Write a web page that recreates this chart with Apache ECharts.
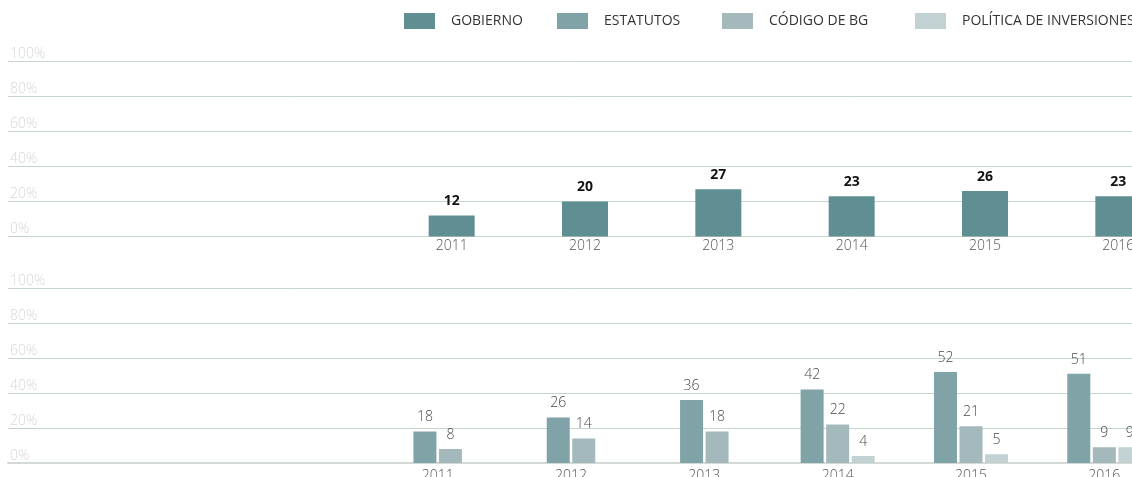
<!DOCTYPE html>
<html>
<head>
    <meta charset="utf-8">
    <style>
        html, body { margin: 0; padding: 0; background: #fff; }
    </style>
</head>
<body>

<div id="main" style="width: 1132px;height:477px;"></div>

<script type="text/javascript" src="https://cdn.jsdelivr.net/npm/echarts@6/dist/echarts.min.js"></script>

<script type="text/javascript">

    // datos
    var years = ['2011', '2012', '2013', '2014', '2015', '2016'];
    var gobierno = [12, 20, 27, 23, 26, 23];
    var estatutos = [18, 26, 36, 42, 52, 51];
    var codigo = [8, 14, 18, 22, 21, 9];
    var politica = [null, null, null, 4, 5, 9];
    var pctTicks = [0, 20, 40, 60, 80, 100];

    var names = ['GOBIERNO', 'ESTATUTOS', 'CÓDIGO DE BG', 'POLÍTICA DE INVERSIONES'];
    var colors = ['#5f8f93', '#80a3a7', '#a3b9bb', '#c2d1d2'];

    // años sin política -> grupo de 2 barras centrado
    function lateOnly(arr) {
        return arr.map(function (v, i) { return politica[i] == null ? null : v; });
    }
    function earlyOnly(arr) {
        return arr.map(function (v, i) { return politica[i] == null ? v : null; });
    }

    var font = '"Open Sans", "DejaVu Sans", sans-serif';
    var gridColor = '#c6d5cb';

    var myChart = echarts.init(document.getElementById('main'));

    function bgY(idx) {
        return {
            gridIndex: idx, type: 'value', min: 0, max: 100, interval: 20,
            axisLine: { show: false }, axisTick: { show: false },
            splitLine: { lineStyle: { color: gridColor, width: 1 } },
            axisLabel: {
                inside: true, margin: 2, align: 'left', verticalAlign: 'bottom',
                color: '#d3d9d5', fontSize: 14, fontWeight: 300, fontFamily: font,
                formatter: '{value}%'
            }
        };
    }
    function hiddenY(idx) {
        return { gridIndex: idx, type: 'value', min: 0, max: 100, interval: 20, show: false };
    }
    function catX(idx, show, margin) {
        return {
            gridIndex: idx, type: 'category', data: years, show: show,
            axisLine: { show: false }, axisTick: { show: false },
            axisLabel: { margin: margin, color: '#555', fontSize: 14, fontWeight: 300, fontFamily: font }
        };
    }

    var legends = [399, 552, 717, 910].map(function (x, i) {
        return {
            data: [names[i]], left: x, top: 8, itemWidth: 31, itemHeight: 16,
            icon: 'rect', selectedMode: false,
            textStyle: { color: '#333', fontSize: 14, fontFamily: font, padding: [0, 0, 0, 11] }
        };
    });

    var bottomLabel = {
        show: true, position: 'top', distance: 7,
        color: '#4a4a4a', fontSize: 14, fontWeight: 300, fontFamily: font
    };

    var option = {
        animation: false,
        legend: legends,
        grid: [
            { left: 8, right: -20, top: 61.5, height: 175, outerBoundsMode: 'none' },
            { left: 385, width: 800, top: 61.5, height: 175, outerBoundsMode: 'none' },
            { left: 8, right: -20, top: 288, height: 175, outerBoundsMode: 'none' },
            { left: 371, width: 800, top: 288, height: 175, outerBoundsMode: 'none' }
        ],
        xAxis: [
            { gridIndex: 0, type: 'value', show: false },
            catX(1, true, 3),
            {
                gridIndex: 2, type: 'value', min: 0, max: 1, show: true,
                axisLine: { show: true, lineStyle: { color: '#d3dad5', width: 2 } },
                axisTick: { show: false }, axisLabel: { show: false }, splitLine: { show: false }
            },
            catX(3, true, 6),
            catX(3, false, 6)
        ],
        yAxis: [bgY(0), hiddenY(1), bgY(2), hiddenY(3), hiddenY(3)],
        series: [
            {
                name: names[0], type: 'bar', xAxisIndex: 1, yAxisIndex: 1,
                data: gobierno, barWidth: 46, itemStyle: { color: colors[0] },
                label: {
                    show: true, position: 'top', distance: 7,
                    color: '#111', fontSize: 14, fontWeight: 'bold', fontFamily: font
                }
            },
            {
                name: names[1], type: 'bar', xAxisIndex: 3, yAxisIndex: 3,
                data: lateOnly(estatutos), barWidth: 23, barGap: '11%',
                itemStyle: { color: colors[1] }, label: bottomLabel
            },
            {
                name: names[2], type: 'bar', xAxisIndex: 3, yAxisIndex: 3,
                data: lateOnly(codigo), barWidth: 23, barGap: '11%',
                itemStyle: { color: colors[2] }, label: bottomLabel
            },
            {
                name: names[3], type: 'bar', xAxisIndex: 3, yAxisIndex: 3,
                data: politica, barWidth: 23, barGap: '11%',
                itemStyle: { color: colors[3] }, label: bottomLabel
            },
            {
                name: names[1], type: 'bar', xAxisIndex: 4, yAxisIndex: 4,
                data: earlyOnly(estatutos), barWidth: 23, barGap: '11%',
                itemStyle: { color: colors[1] }, label: bottomLabel
            },
            {
                name: names[2], type: 'bar', xAxisIndex: 4, yAxisIndex: 4,
                data: earlyOnly(codigo), barWidth: 23, barGap: '11%',
                itemStyle: { color: colors[2] }, label: bottomLabel
            }
        ]
    };

    myChart.setOption(option);
</script>

</body>
</html>
